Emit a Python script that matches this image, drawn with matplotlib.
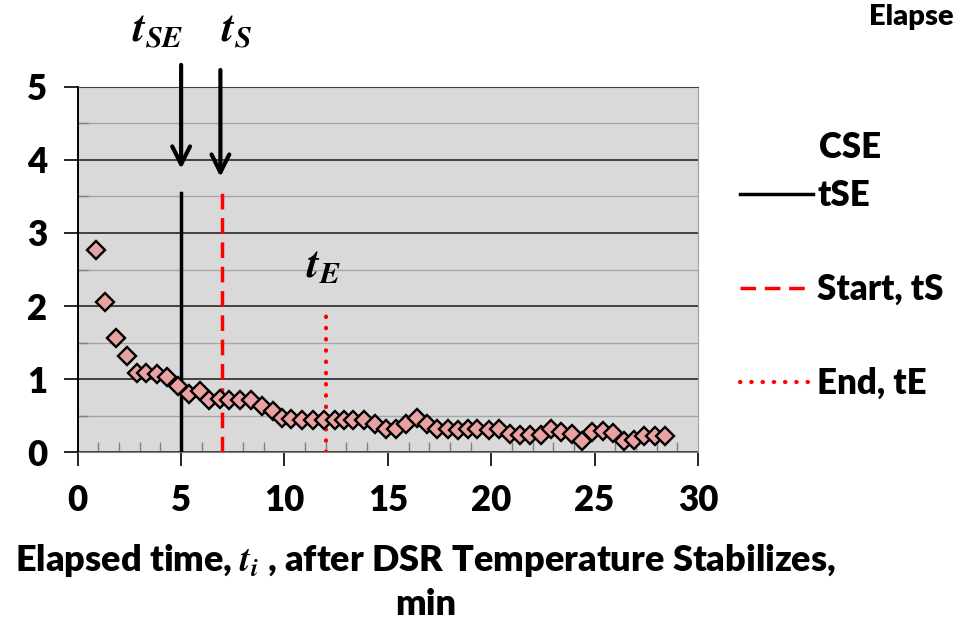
import numpy as np
import matplotlib.pyplot as plt
from matplotlib.ticker import MultipleLocator

# CSE readings vs elapsed time (min)
t_min = [0.87, 1.34, 1.87, 2.4, 2.88, 3.32, 3.85, 4.33, 4.86, 5.38, 5.9, 6.35, 6.86, 7.34,
         7.86, 8.39, 8.92, 9.44, 9.86, 10.32, 10.85, 11.37, 11.9, 12.44, 12.87, 13.33, 13.86,
         14.4, 14.9, 15.4, 15.9, 16.4, 16.9, 17.4, 17.9, 18.4, 18.9, 19.3, 19.9, 20.4, 20.9,
         21.4, 21.9, 22.4, 22.9, 23.4, 23.9, 24.4, 24.9, 25.4, 25.9, 26.4, 26.9, 27.4, 27.9, 28.4]
cse = [2.77, 2.05, 1.56, 1.31, 1.08, 1.08, 1.07, 1.03, 0.90, 0.80, 0.83, 0.72, 0.73, 0.71,
       0.71, 0.71, 0.63, 0.56, 0.46, 0.45, 0.44, 0.44, 0.44, 0.44, 0.44, 0.44, 0.44,
       0.39, 0.32, 0.32, 0.39, 0.46, 0.38, 0.32, 0.32, 0.30, 0.32, 0.32, 0.30, 0.32, 0.25,
       0.23, 0.23, 0.23, 0.32, 0.28, 0.25, 0.15, 0.27, 0.29, 0.26, 0.15, 0.16, 0.22, 0.22, 0.22]

t_SE, t_S, t_E = 5, 7, 12
marker_top = [3.55, 3.55, 1.95]

plt.rcParams['font.family'] = ['Lato', 'DejaVu Sans']
plt.rcParams['font.weight'] = 'heavy'
plt.rcParams['mathtext.fontset'] = 'stix'

fig = plt.figure(figsize=(9.6, 6.21), dpi=100)
ax = fig.add_axes([0.081, 0.272, 0.646, 0.588])
ax.set_facecolor('#d9d9d9')

ax.set_xlim(0, 30)
ax.set_ylim(0, 5)
ax.xaxis.set_major_locator(MultipleLocator(5))
ax.xaxis.set_minor_locator(MultipleLocator(1))
ax.yaxis.set_major_locator(MultipleLocator(1))
ax.yaxis.set_minor_locator(MultipleLocator(0.5))
ax.grid(which='major', axis='y', color='#404040', lw=1.4)
ax.grid(which='minor', axis='y', color='#a6a6a6', lw=1.0)
ax.set_axisbelow(True)

ax.tick_params(which='major', direction='out', length=10, width=1.2, labelsize=25)
ax.tick_params(axis='x', which='major', pad=13)
ax.tick_params(axis='y', which='major', pad=12)
ax.tick_params(which='minor', direction='in', length=7, width=1, color='#808080')
ax.spines['right'].set_color('#a0a0a0')
ax.spines['top'].set_color('#404040')
ax.spines['left'].set_linewidth(1.4)
ax.spines['bottom'].set_color('#808080')

ax.plot(t_min, cse, ls='none', marker='D', ms=9, mfc='#e8a2a2', mec='black', mew=1.7,
        label='_nolegend_', zorder=4)

ax.plot([t_SE, t_SE], [0, marker_top[0]], color='black', lw=2.5, label='tSE', zorder=3)
ax.plot([t_S, t_S], [0, marker_top[1]], color='red', lw=2.5, ls=(0, (4.5, 2.5)), label='Start, tS', zorder=3)
ax.plot([t_E, t_E], [0, marker_top[2]], color='red', lw=3, ls=(0, (0.1, 2.6)),
        dash_capstyle='round', label='End, tE', zorder=3)

arrow = dict(arrowstyle='->', lw=3, color='black', mutation_scale=32)
ax.annotate('', xy=(t_SE, 3.84), xytext=(t_SE, 5.34), arrowprops=arrow, annotation_clip=False)
ax.annotate('', xy=(t_S - 0.1, 3.73), xytext=(t_S - 0.1, 5.27), arrowprops=arrow, annotation_clip=False)

ax.text(3.85, 5.78, r'$\mathbfit{t}_{\mathit{SE}}$', fontsize=31, ha='center', va='center')
ax.text(7.66, 5.78, r'$\mathbfit{t}_{\mathit{S}}$', fontsize=31, ha='center', va='center')
ax.text(11.87, 2.56, r'$\mathbfit{t}_{\mathit{E}}$', fontsize=31, ha='center', va='center')

leg = ax.legend(loc='upper left', bbox_to_anchor=(1.04, 0.795), frameon=False, fontsize=25,
                handlelength=2.1, handletextpad=0.12, labelspacing=1.75, borderpad=0)
ax.text(1.195, 0.833, 'CSE', transform=ax.transAxes, fontsize=25, ha='left', va='center')

fig.text(0.443, 0.098, r'Elapsed time, $\mathit{t_i}$ , after DSR Temperature Stabilizes,',
         ha='center', va='center', fontsize=26)
fig.text(0.443, 0.026, 'min', ha='center', va='center', fontsize=26)
fig.text(0.905, 0.972, 'Elapse', ha='left', va='center', fontsize=21)

fig.savefig('out.png', dpi=100)
